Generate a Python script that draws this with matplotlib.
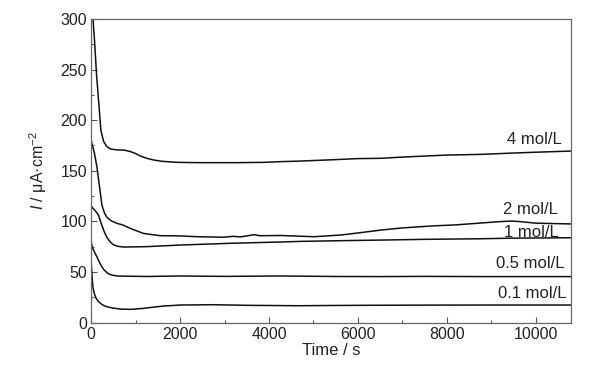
import numpy as np
import matplotlib
matplotlib.use('Agg')
import matplotlib.pyplot as plt
from matplotlib.ticker import MultipleLocator

plt.rcParams['font.family'] = ['Liberation Sans', 'DejaVu Sans']
plt.rcParams['mathtext.fontset'] = 'custom'
plt.rcParams['mathtext.rm'] = 'Liberation Sans'
plt.rcParams['mathtext.it'] = 'Liberation Sans:italic'

# values (time in s, current in uA/cm2)
t_4 = [0, 40, 80, 120, 165, 218, 278, 350, 430, 600, 730, 880, 1000, 1106, 1250, 1407, 1600,
       1934, 2400, 2760, 3300, 3890, 4266, 4718, 5500, 6000, 6524, 7000, 8000, 8781, 9500, 10000, 10813]
i_4 = [320, 300, 275, 245, 220, 190, 179, 174, 171.5, 170.5, 170.5, 169, 167, 164.6, 162.3, 160.6, 159.3,
       158.3, 158, 158, 158, 158.3, 159, 159.6, 161, 162, 162.3, 163.5, 165.5, 166.2, 167.5, 168.3, 169.5]

t_2 = [0, 15, 70, 128, 188, 241, 300, 354, 450, 580, 707, 880, 1000, 1181, 1557, 2000, 2386, 2974,
       3200, 3350, 3500, 3664, 3800, 4266, 5018, 5620, 6000, 6524, 7000, 7652, 8200, 9158, 9458, 9684, 10000, 10813]
i_2 = [180, 177, 168, 154, 134, 116, 108, 104, 100.5, 98, 96.5, 93, 91, 88, 85.8, 85.6, 84.8, 84.3,
       85.2, 84.6, 85.6, 86.8, 85.8, 86, 84.8, 86.5, 88.5, 91.4, 93.5, 95.4, 96.5, 99.6, 100.3, 99.6, 98.2, 97.4]

t_1 = [0, 38, 100, 165, 241, 300, 354, 430, 504, 600, 730, 1000, 1256, 2010, 3140, 4266, 4718,
       5500, 6524, 7500, 8781, 9500, 10813]
i_1 = [115, 113, 110, 106, 96, 89, 84, 79.5, 76.8, 75.3, 74.6, 74.8, 75, 76.6, 78.3, 79.6, 80.2,
       80.8, 81.5, 82.2, 82.8, 83.4, 83.8]

t_05 = [0, 20, 70, 128, 180, 241, 300, 391, 480, 580, 800, 1256, 2000, 3000, 4266, 5500, 6524,
        7500, 8781, 10000, 10813]
i_05 = [80, 75, 70, 65, 60, 55, 51.5, 48, 46.8, 46, 45.8, 45.5, 46, 45.6, 46, 45.5, 45.4,
        45.6, 45.4, 45.4, 45.4]

t_01 = [0, 20, 38, 68, 110, 165, 250, 354, 500, 655, 880, 1181, 1400, 1633, 2010, 2762, 3513,
        4643, 6000, 7500, 9000, 10813]
i_01 = [60, 45, 35.4, 28.8, 24, 20.6, 17.5, 15.6, 14.2, 13.3, 13, 14, 15.2, 16.3, 17.3, 17.6, 17,
        16.6, 17, 17.2, 17.3, 17.3]

labels = ['4 mol/L', '2 mol/L', '1 mol/L', '0.5 mol/L', '0.1 mol/L']
label_y = [181, 112, 89, 58, 29]
label_x = [10580, 10500, 10520, 10640, 10700]

fig = plt.figure(figsize=(6.0, 3.72), dpi=100)
ax = fig.add_axes([0.152, 0.133, 0.800, 0.816])

for t, i in [(t_4, i_4), (t_2, i_2), (t_1, i_1), (t_05, i_05), (t_01, i_01)]:
    ax.plot(t, i, color='#111111', lw=1.1)

for lab, x, y in zip(labels, label_x, label_y):
    ax.text(x, y, lab, ha='right', va='center', fontsize=12, color='#222222')

ax.set_xlim(0, 10800)
ax.set_ylim(0, 300)
ax.xaxis.set_major_locator(MultipleLocator(2000))
ax.xaxis.set_minor_locator(MultipleLocator(1000))
ax.yaxis.set_major_locator(MultipleLocator(50))
ax.yaxis.set_minor_locator(MultipleLocator(25))
ax.tick_params(which='both', direction='in', colors='#555555', labelcolor='#222222', labelsize=11.5)
ax.tick_params(which='major', length=4, width=0.8, pad=3)
ax.tick_params(which='minor', length=2.5, width=0.8)
for s in ax.spines.values():
    s.set_color('#666666')
    s.set_linewidth(0.9)

ax.set_xlabel('Time / s', fontsize=12, color='#222222', labelpad=1)
ax.set_ylabel(r'$\mathit{I}$ / μA·cm$^{-2}$', fontsize=11.5, color='#222222', labelpad=8)

fig.savefig('out.png', dpi=100)
